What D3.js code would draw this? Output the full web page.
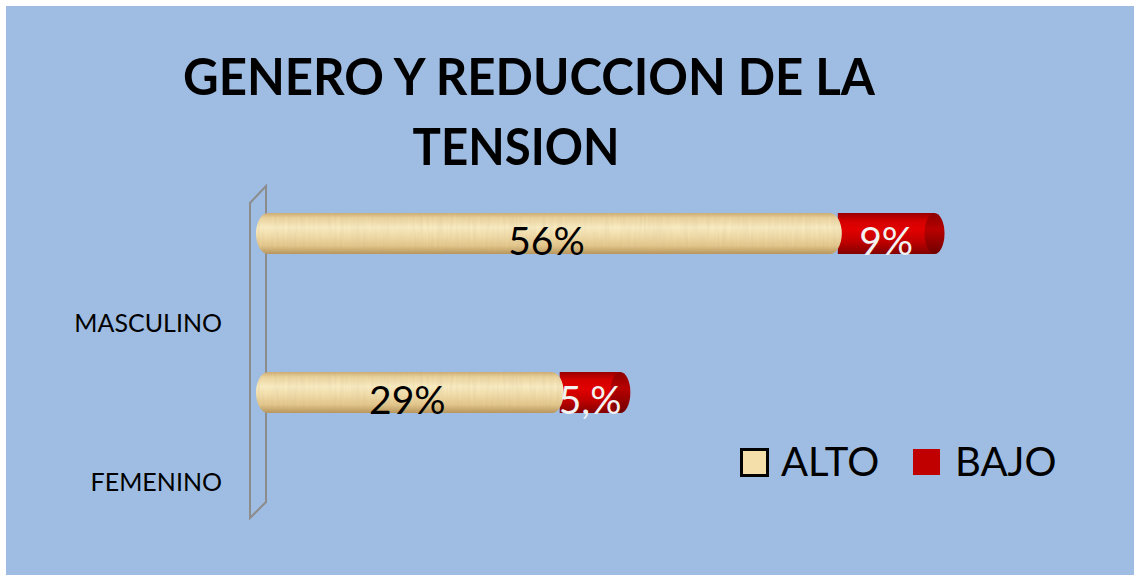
<!DOCTYPE html>
<html>
<head>
<meta charset="utf-8">
<script src="https://d3js.org/d3.v7.min.js"></script>
<style>
  body { margin: 0; background: #ffffff; }
  text { font-family: Lato, "Open Sans", sans-serif; }
</style>
</head>
<body>
<div id="chart"></div>
<script>
// data
var categories = ["MASCULINO", "FEMENINO"]
var series = ["ALTO", "BAJO"]
var alto = [56, 29]
var bajo = [9, 5.5]
var altoLabels = ["56%", "29%"]
var bajoLabels = ["9%", "5,%"]
var titleLines = ["GENERO Y REDUCCION DE LA", "TENSION"]

var width = 1134,
    height = 575

var svg = d3.select("#chart")
    .append("svg")
    .attr("width", width)
    .attr("height", height)

// background
svg.append("rect")
    .attr("x", 6)
    .attr("y", 6)
    .attr("width", width - 6)
    .attr("height", height - 6)
    .style("fill", "#9fbde3")

var defs = svg.append("defs")

// cream cylinder gradient
var gCream = defs.append("linearGradient")
    .attr("id", "cream")
    .attr("x1", 0).attr("y1", 0).attr("x2", 0).attr("y2", 1)
var creamStops = [[0, "#cfae72"], [0.12, "#eed6a0"], [0.35, "#fdf0c6"], [0.55, "#f6e1ae"], [0.8, "#e6c98c"], [1, "#b8955a"]]
creamStops.forEach(function (s) {
    gCream.append("stop").attr("offset", s[0]).attr("stop-color", s[1])
})

// red cylinder gradient
var gRed = defs.append("linearGradient")
    .attr("id", "red")
    .attr("x1", 0).attr("y1", 0).attr("x2", 0).attr("y2", 1)
var redStops = [[0, "#9a0000"], [0.2, "#d40000"], [0.4, "#e20000"], [0.7, "#c00000"], [1, "#820000"]]
redStops.forEach(function (s) {
    gRed.append("stop").attr("offset", s[0]).attr("stop-color", s[1])
})

var gRedEnd = defs.append("linearGradient")
    .attr("id", "redEnd")
    .attr("x1", 0).attr("y1", 0).attr("x2", 0).attr("y2", 1)
gRedEnd.append("stop").attr("offset", 0).attr("stop-color", "#8c0000")
gRedEnd.append("stop").attr("offset", 0.4).attr("stop-color", "#b80000")
gRedEnd.append("stop").attr("offset", 1).attr("stop-color", "#700000")

// light grain texture on the cream bars
var grain = defs.append("filter").attr("id", "grain")
grain.append("feTurbulence")
    .attr("type", "fractalNoise")
    .attr("baseFrequency", "0.35 0.03")
    .attr("numOctaves", 2)
    .attr("seed", 3)
    .attr("result", "noise")
grain.append("feColorMatrix")
    .attr("in", "noise")
    .attr("type", "matrix")
    .attr("values", "0 0 0 0 0.45  0 0 0 0 0.35  0 0 0 0 0.2  0 0 0 0.25 0")
    .attr("result", "tint")
grain.append("feComposite")
    .attr("in", "tint")
    .attr("in2", "SourceGraphic")
    .attr("operator", "in")
    .attr("result", "grainClip")
grain.append("feMerge").selectAll("feMergeNode")
    .data(["SourceGraphic", "grainClip"])
    .enter()
    .append("feMergeNode")
    .attr("in", function (d) { return d })

// title
svg.append("g").selectAll("text")
    .data(titleLines)
    .enter()
    .append("text")
    .attr("x", function (d, i) { return i == 0 ? 529 : 516 })
    .attr("y", function (d, i) { return 95 + i * 70 })
    .attr("text-anchor", "middle")
    .attr("textLength", function (d, i) { return i == 0 ? 692 : 207 })
    .attr("lengthAdjust", "spacingAndGlyphs")
    .style("font-size", "51px")
    .style("font-weight", "bold")
    .style("fill", "#000000")
    .text(function (d) { return d })

// scales
var xScale = d3.scaleLinear()
    .domain([0, 70])
    .range([265, 265 + 70 * 10.3])

var yScale = d3.scaleBand()
    .domain(categories)
    .range([154, 472])
    .paddingInner(0.74)
    .paddingOuter(0.37)

var barH = 41
var labelDrop = 89   // the 3D view pushes the category labels below their bars

// back wall of the 3D chart
var wall = d3.line()
svg.append("path")
    .attr("d", wall([[250, 203], [266, 186], [266, 502], [250, 518]]) + "Z")
    .style("fill", "none")
    .style("stroke", "#8c8c8c")
    .style("stroke-width", 2)

// category labels
svg.append("g").selectAll("text")
    .data(categories)
    .enter()
    .append("text")
    .attr("x", 222)
    .attr("y", function (d) { return yScale(d) + yScale.bandwidth() / 2 + labelDrop + 9 })
    .attr("text-anchor", "end")
    .style("font-size", "25px")
    .style("fill", "#000000")
    .text(function (d) { return d })

var rows = categories.map(function (c, i) {
    return { cat: c, alto: alto[i], bajo: bajo[i], altoLabel: altoLabels[i], bajoLabel: bajoLabels[i] }
})

var bars = svg.append("g").selectAll("g")
    .data(rows)
    .enter()
    .append("g")
    .attr("transform", function (d) {
        return "translate(0," + (yScale(d.cat) + yScale.bandwidth() / 2 - barH / 2) + ")"
    })

// BAJO (red) cylinder
bars.append("rect")
    .attr("x", function (d) { return xScale(d.alto) - 4 })
    .attr("y", 0)
    .attr("width", function (d) { return xScale(d.alto + d.bajo) - xScale(d.alto) + 4 })
    .attr("height", barH)
    .style("fill", "url(#red)")

bars.append("ellipse")
    .attr("cx", function (d) { return xScale(d.alto + d.bajo) })
    .attr("cy", barH / 2)
    .attr("rx", 10)
    .attr("ry", barH / 2)
    .style("fill", "url(#redEnd)")

// ALTO (cream) cylinder with rounded ends
bars.append("rect")
    .attr("x", xScale(0) - 9)
    .attr("y", 0)
    .attr("width", function (d) { return xScale(d.alto) - xScale(0) + 9 })
    .attr("height", barH)
    .attr("rx", 12)
    .attr("ry", barH / 2)
    .style("fill", "url(#cream)")
    .attr("filter", "url(#grain)")

// data labels
bars.append("text")
    .attr("x", function (d) { return (xScale(0) + xScale(d.alto)) / 2 - 7 })
    .attr("y", barH + 1)
    .attr("text-anchor", "middle")
    .style("font-size", "39px")
    .style("fill", "#000000")
    .text(function (d) { return d.altoLabel })

bars.append("text")
    .attr("x", function (d) { return (xScale(d.alto) + xScale(d.alto + d.bajo)) / 2 - 2 })
    .attr("y", barH + 1)
    .attr("text-anchor", "middle")
    .style("font-size", "39px")
    .style("fill", "#f2f2f2")
    .text(function (d) { return d.bajoLabel })

// legend
var legendColors = { "ALTO": "#f4deaa", "BAJO": "#c00000" }
var legendX = [740, 913]
var legend = svg.append("g").selectAll("g")
    .data(series)
    .enter()
    .append("g")
    .attr("transform", function (d, i) { return "translate(" + legendX[i] + ",448)" })

legend.append("rect")
    .attr("x", function (d, i) { return i == 0 ? 1.5 : 0 })
    .attr("y", function (d, i) { return i == 0 ? 1.5 : 1 })
    .attr("width", function (d, i) { return i == 0 ? 26 : 27 })
    .attr("height", 26)
    .style("fill", function (d) { return legendColors[d] })
    .style("stroke", function (d, i) { return i == 0 ? "#000000" : "none" })
    .style("stroke-width", 3)

legend.append("text")
    .attr("x", function (d, i) { return i == 0 ? 41 : 42 })
    .attr("y", 28)
    .style("font-size", "40px")
    .style("fill", "#000000")
    .text(function (d) { return d })
</script>
</body>
</html>
